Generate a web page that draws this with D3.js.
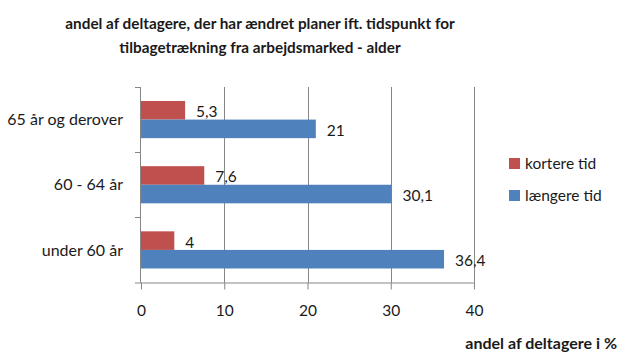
<!DOCTYPE html>
<html><head><meta charset="utf-8">
<script src="https://cdn.jsdelivr.net/npm/d3@7"></script>
<style>body{margin:0;background:#fff}svg{display:block}text{font-family:Lato,"Open Sans",sans-serif;fill:#1a1a1a}</style>
</head><body>
<script>
const categories = ["65 år og derover", "60 - 64 år", "under 60 år"];
const seriesNames = ["kortere tid", "længere tid"];
const kortere = [5.3, 7.6, 4];
const laengere = [21, 30.1, 36.4];
const xTicks = [0, 10, 20, 30, 40];
const colors = ["#C0504D", "#4F81BD"];
const titleLines = ["andel af deltagere, der har ændret planer ift. tidspunkt for", "tilbagetrækning fra arbejdsmarked - alder"];
const xTitle = "andel af deltagere i %";

(function () {
const W = 620, H = 357;
const svg = d3.select("body").append("svg").attr("width", W).attr("height", H);
const pl = 141, pr = 474, pt = 87, pb = 282.5;
const x = d3.scaleLinear().domain([0, 40]).range([pl, pr]);
const y = d3.scaleBand().domain(categories).range([pt, pb]).paddingInner(0.43).paddingOuter(0.215);
const sub = d3.scaleBand().domain(seriesNames).range([0, y.bandwidth()]);
const series = [kortere, laengere];

// gridlines
svg.append("g").selectAll("line").data(xTicks.slice(1)).join("line")
  .attr("x1", d => Math.round(x(d)) + 0.5).attr("x2", d => Math.round(x(d)) + 0.5).attr("y1", pt).attr("y2", pb)
  .attr("stroke", "#868686").attr("stroke-width", 1);

// bars
series.forEach((vals, si) => {
  svg.append("g").selectAll("rect").data(categories).join("rect")
    .attr("x", x(0)).attr("y", (c) => y(c) + sub(seriesNames[si]))
    .attr("width", (c, i) => x(vals[i]) - x(0)).attr("height", sub.bandwidth())
    .attr("fill", colors[si]);
  svg.append("g").selectAll("text").data(categories).join("text")
    .attr("x", (c, i) => x(vals[i]) + 11)
    .attr("y", c => y(c) + sub(seriesNames[si]) + sub.bandwidth() / 2 + 7)
    .attr("font-size", 15.5)
    .text((c, i) => String(vals[i]).replace(".", ","));
});

// x axis
const xAxis = d3.axisBottom(x).tickValues(xTicks).tickSize(7).tickPadding(15);
const gx = svg.append("g").attr("transform", `translate(0,${pb})`).call(xAxis);
gx.select(".domain").remove();
gx.append("line").attr("x1", pl - 6).attr("x2", pr).attr("y1", 0.5).attr("y2", 0.5).attr("stroke", "#868686");
gx.selectAll(".tick line").attr("stroke", "#868686");
gx.selectAll(".tick text").attr("font-size", 15.5).attr("font-family", "Lato, sans-serif").attr("fill", "#1a1a1a");

// y axis
const yAxis = d3.axisLeft(y).tickSize(0).tickPadding(18);
const gy = svg.append("g").attr("transform", `translate(${pl},0)`).call(yAxis);
gy.select(".domain").remove();
gy.append("line").attr("x1", -0.5).attr("x2", -0.5).attr("y1", pt).attr("y2", pb).attr("stroke", "#868686");
const sep = [pt, ...categories.map(c => y(c) + y.bandwidth() + y.step() * y.paddingInner() / 2)];
gy.selectAll(".sep").data(sep.slice(0, 3)).join("line").attr("class", "sep")
  .attr("x1", -6).attr("x2", 0).attr("y1", d => Math.round(d) + 0.5).attr("y2", d => Math.round(d) + 0.5).attr("stroke", "#868686");
gy.selectAll(".tick text").attr("font-size", 16).attr("font-family", "Lato, sans-serif").attr("fill", "#1a1a1a").attr("dy", "0.35em");

// title
svg.append("g").selectAll("text").data(titleLines).join("text")
  .attr("x", 260).attr("y", (d, i) => 29 + i * 24).attr("text-anchor", "middle")
  .attr("font-size", 15.3).attr("font-weight", "bold").text(d => d);

// x title
svg.append("text").attr("x", 617).attr("y", 349).attr("text-anchor", "end")
  .attr("font-size", 16).attr("font-weight", "bold").text(xTitle);

// legend
const lg = svg.append("g");
seriesNames.forEach((n, i) => {
  lg.append("rect").attr("x", 509).attr("y", 158 + i * 32).attr("width", 11).attr("height", 11).attr("fill", colors[i]);
  lg.append("text").attr("x", 525).attr("y", 169 + i * 32).attr("font-size", 15.5).text(n);
});
})();
</script>
</body></html>
